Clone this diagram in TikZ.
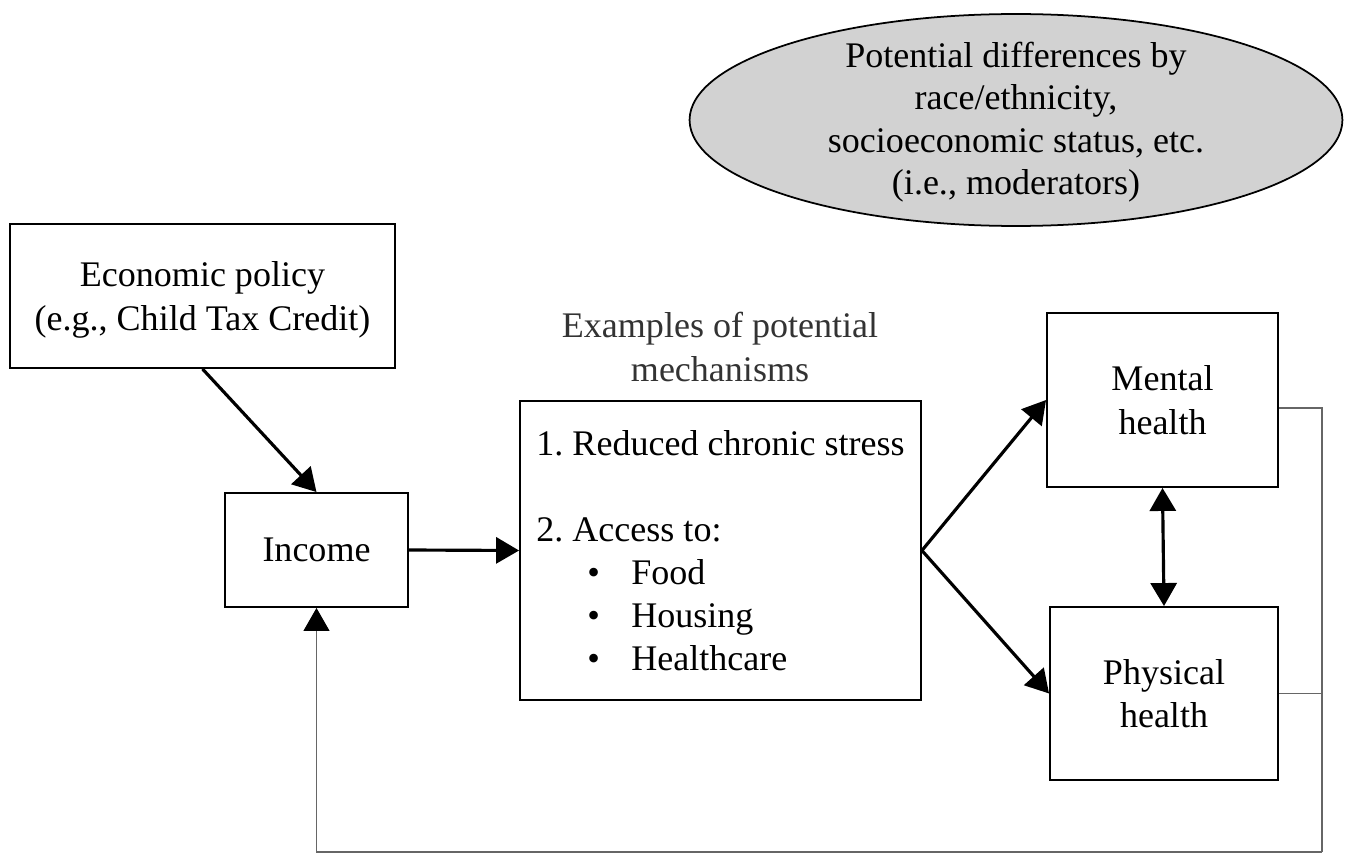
\documentclass[tikz,border=0pt]{standalone}
\usepackage{fontspec}
\setmainfont{Liberation Serif}
\usepackage{tikz}
\usetikzlibrary{arrows.meta}
\usetikzlibrary{shapes.geometric}
\usetikzlibrary{calc}

\newcommand{\mechitem}[1]{\makebox[1.9cm][l]{\hspace{1.02cm}\textbullet}#1}

\begin{document}
\frenchspacing
\begin{tikzpicture}[x=0.02cm,y=-0.02cm,
    font=\fontsize{20.5}{24.5}\selectfont,
    box/.style={draw,line width=1.1pt,align=center,inner sep=0pt,text depth=0pt},
    arr/.style={line width=1.8pt,-{Triangle[length=0.46cm,width=0.52cm]}},
    fb/.style={draw=gray!80!black,line width=0.7pt}]
\useasboundingbox (0,0) rectangle (1350,855);
%% moderators
\node[ellipse,draw,fill=gray!35,line width=1pt,inner sep=0pt,
      minimum width=13.06cm,minimum height=4.24cm] (moder) at (1016,120) {};
\node[align=center,font=\fontsize{20.5}{24.2}\selectfont] (modertext) at (1016,122)
      {Potential differences by\\race/ethnicity,\\socioeconomic status, etc.\\(i.e., moderators)};
%% boxes
\node[box,minimum width=7.7cm,minimum height=2.88cm] (policy) at (202.5,296) {Economic policy\\(e.g., Child Tax Credit)};
\node[box,minimum width=3.66cm,minimum height=2.28cm] (income) at (316.5,550) {Income};
\node[text=black!80,align=center] (mechlabel) at (720,347) {Examples of potential\\mechanisms};
\node[box,align=left,minimum width=8.02cm,minimum height=5.98cm] (mech) at (720.5,550.5)
      {1. Reduced chronic stress\\[24.5pt]2. Access to:\\\mechitem{Food}\\\mechitem{Housing}\\\mechitem{Healthcare}};
\node[box,minimum width=4.62cm,minimum height=3.48cm] (mental) at (1162.5,400) {Mental\\health};
\node[box,minimum width=4.56cm,minimum height=3.46cm] (physical) at (1164,693.5) {Physical\\health};
%% arrows
\draw[arr] (policy.south) -- (income.north);
\draw[arr] (income.east) -- (mech.west);
\draw[arr] (mech.east) -- (mental.west);
\draw[arr] (mech.east) -- (physical.west);
\draw[line width=1.8pt,{Triangle[length=0.46cm,width=0.52cm]}-{Triangle[length=0.46cm,width=0.52cm]}] (mental.south) -- (physical.north);
%% feedback loop
\coordinate (fbr) at (1322,852);
\draw[fb] ([yshift=-0.16cm]mental.east) -| (fbr);
\draw[fb] (physical.east) -- (physical.east -| fbr);
\draw[fb,-{Triangle[length=0.46cm,width=0.52cm,color=black]}] (fbr) -| (income.south);
\end{tikzpicture}
\end{document}
